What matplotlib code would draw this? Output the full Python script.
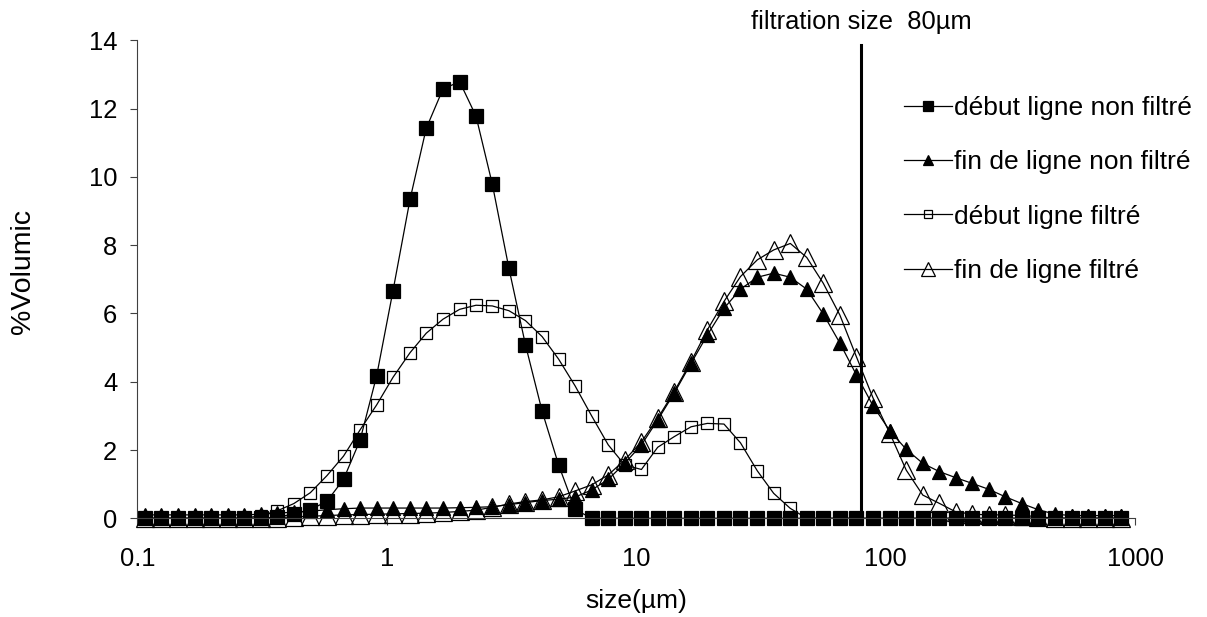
import matplotlib
matplotlib.use('Agg')
import matplotlib.pyplot as plt
from matplotlib.ticker import NullLocator

plt.rcParams['font.family'] = ['Liberation Sans', 'DejaVu Sans']

# particle size classes (µm)
sizes = [0.107, 0.125, 0.146, 0.170, 0.198, 0.230, 0.268, 0.313, 0.364, 0.424,
         0.494, 0.576, 0.671, 0.782, 0.911, 1.06, 1.24, 1.44, 1.68, 1.96,
         2.28, 2.65, 3.09, 3.60, 4.20, 4.89, 5.69, 6.63, 7.73, 9.00,
         10.5, 12.2, 14.2, 16.6, 19.3, 22.5, 26.2, 30.6, 35.6, 41.5,
         48.3, 56.3, 65.6, 76.4, 89.0, 104, 121, 141, 164, 191,
         223, 259, 302, 352, 410, 478, 557, 648, 755, 880]

debut_non_filtre = [0, 0, 0, 0, 0, 0, 0, 0, 0.03, 0.13,
                    0.25, 0.5, 1.14, 2.29, 4.17, 6.67, 9.34, 11.42, 12.57, 12.79,
                    11.78, 9.79, 7.32, 5.08, 3.13, 1.56, 0.26, 0, 0, 0,
                    0, 0, 0, 0, 0, 0, 0, 0, 0, 0,
                    0, 0, 0, 0, 0, 0, 0, 0, 0, 0,
                    0, 0, 0, 0, 0, 0, 0, 0, 0, 0]

fin_non_filtre = [0.1, 0.1, 0.1, 0.1, 0.1, 0.1, 0.1, 0.12, 0.15, 0.18,
                  0.21, 0.25, 0.28, 0.3, 0.3, 0.3, 0.3, 0.3, 0.3, 0.31,
                  0.32, 0.34, 0.4, 0.46, 0.52, 0.56, 0.62, 0.83, 1.14, 1.61,
                  2.15, 2.88, 3.66, 4.54, 5.37, 6.15, 6.71, 7.06, 7.18, 7.06,
                  6.71, 5.98, 5.13, 4.2, 3.3, 2.56, 2.02, 1.61, 1.37, 1.19,
                  1.02, 0.85, 0.63, 0.43, 0.25, 0.12, 0.08, 0.08, 0.08, 0.08]

debut_filtre = [0, 0, 0, 0, 0, 0, 0, 0.08, 0.22, 0.43,
                0.75, 1.25, 1.82, 2.59, 3.32, 4.13, 4.85, 5.42, 5.83, 6.12,
                6.24, 6.22, 6.08, 5.79, 5.32, 4.66, 3.88, 3.0, 2.15, 1.56,
                1.43, 2.08, 2.39, 2.68, 2.78, 2.76, 2.21, 1.39, 0.73, 0.29,
                0, 0, 0, 0, 0, 0, 0, 0, 0, 0,
                0, 0, 0, 0, 0, 0, 0, 0, 0, 0]

fin_filtre = [0, 0, 0, 0, 0, 0, 0, 0, 0.02, 0.04,
              0.06, 0.08, 0.1, 0.11, 0.12, 0.13, 0.14, 0.15, 0.17, 0.2,
              0.24, 0.32, 0.42, 0.49, 0.54, 0.63, 0.8, 0.98, 1.27, 1.71,
              2.24, 2.93, 3.71, 4.59, 5.52, 6.35, 7.08, 7.57, 7.86, 8.05,
              7.64, 6.88, 5.95, 4.73, 3.53, 2.49, 1.41, 0.68, 0.44, 0.19,
              0.12, 0.1, 0.1, 0.08, 0.05, 0, 0, 0, 0, 0]

labels = ['début ligne non filtré', 'fin de ligne non filtré',
          'début ligne filtré', 'fin de ligne filtré']

x_ticks = [0.1, 1, 10, 100, 1000]
x_tick_labels = ['0.1', '1', '10', '100', '1000']
y_ticks = [0, 2, 4, 6, 8, 10, 12, 14]

filtration_size = 80
filtration_top = 13.86

fig = plt.figure(figsize=(12.07, 6.17), dpi=100)
ax = fig.add_axes([0.11375, 0.15997, 0.82660, 0.77472])

series = [debut_non_filtre, fin_non_filtre, debut_filtre, fin_filtre]
markers = ['s', '^', 's', '^']
msizes = [10, 10, 8.5, 13.5]
faces = ['black', 'black', 'none', 'none']

for vals, lab, mk, ms, fc in zip(series, labels, markers, msizes, faces):
    ax.plot(sizes, vals, color='black', lw=0.9, marker=mk, ms=ms,
            mfc=fc, mec='black', mew=0.9, clip_on=False, label=lab)

ax.axvline(filtration_size, ymin=0, ymax=filtration_top / 14,
           color='black', lw=2.2)

ax.set_xscale('log')
ax.set_xlim(0.1, 1000)
ax.set_ylim(0, 14)
ax.set_xticks(x_ticks)
ax.set_xticklabels(x_tick_labels)
ax.xaxis.set_minor_locator(NullLocator())
ax.set_yticks(y_ticks)

for s in ['top', 'right']:
    ax.spines[s].set_visible(False)
for s in ['left', 'bottom']:
    ax.spines[s].set_color('#404040')
    ax.spines[s].set_linewidth(0.8)

ax.tick_params(axis='both', direction='out', length=5, width=0.8,
               color='#404040', labelsize=18.4)
ax.tick_params(axis='x', pad=16)
ax.tick_params(axis='y', pad=9.4)

fig.text(23.3 / 1207, 1 - 271 / 617, '%Volumic', rotation=90,
         ha='center', va='center', fontsize=20.5)
fig.text(636 / 1207, 1 - 601 / 617, 'size(µm)', ha='center', va='center',
         fontsize=19)
fig.text(972 / 1207, 1 - 21.7 / 617, 'filtration size  80µm', ha='right',
         va='center', fontsize=18.4)

ax.legend(loc='upper left', bbox_to_anchor=(904 / 1207, 1 - 96 / 617),
          bbox_transform=fig.transFigure, frameon=False, fontsize=19,
          handlelength=1.8, handletextpad=0.08, labelspacing=1.15,
          borderpad=0, borderaxespad=0, markerscale=0.7, numpoints=1)

fig.savefig('out.png', dpi=100)
